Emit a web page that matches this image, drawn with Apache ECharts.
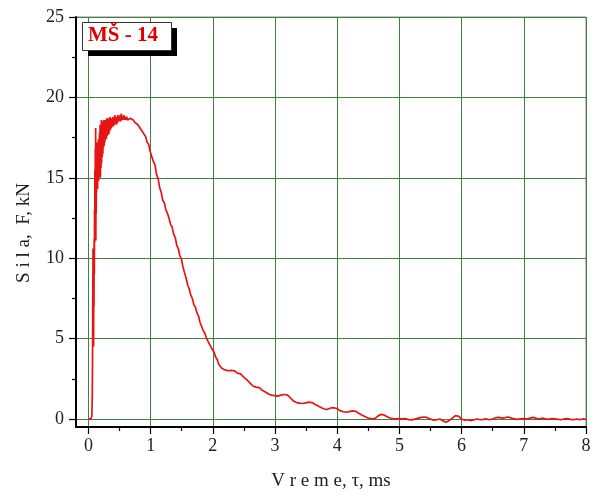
<!DOCTYPE html>
<html>
<head>
<meta charset="utf-8">
<script src="https://cdn.jsdelivr.net/npm/echarts@6/dist/echarts.min.js"></script>
<style>
  html, body { margin: 0; padding: 0; background: #fff; }
  #chart { width: 593px; height: 495px; }
</style>
</head>
<body>
<div id="chart"></div>
<script>
// Specimen label
const specimenName = 'MŠ - 14';

// Impact onset and peak plateau: time (ms) and force (kN)
const riseTime = [
  0.000, 0.040, 0.055, 0.062, 0.066, 0.070, 0.074, 0.077, 0.080, 0.083,
  0.086, 0.089, 0.092, 0.095, 0.098, 0.101, 0.104, 0.107, 0.110, 0.113,
  0.116, 0.119, 0.122, 0.125, 0.128, 0.131, 0.135, 0.139, 0.143, 0.147,
  0.151, 0.155, 0.159, 0.163, 0.167, 0.172, 0.177, 0.182, 0.187, 0.192,
  0.197, 0.202, 0.207, 0.212, 0.217, 0.222, 0.227, 0.232, 0.237, 0.242,
  0.247, 0.252, 0.258, 0.264, 0.270, 0.276, 0.282, 0.288, 0.294, 0.300,
  0.307, 0.314, 0.321, 0.328, 0.335, 0.342, 0.349, 0.356, 0.363, 0.370,
  0.378, 0.386, 0.394, 0.402, 0.410, 0.418, 0.426, 0.434, 0.442, 0.450,
  0.458, 0.466, 0.474, 0.482, 0.490, 0.500, 0.510, 0.520, 0.530, 0.540,
  0.550, 0.560, 0.570, 0.580, 0.590, 0.600, 0.615, 0.630, 0.645, 0.660,
  0.675, 0.690, 0.705
];
const riseForce = [
  0.00, 0.00, 0.20, 1.50, 4.00, 7.50, 10.60, 5.00, 9.50, 4.50,
  10.00, 7.00, 11.20, 9.00, 13.00, 11.00, 15.50, 12.50, 16.80, 14.00,
  18.10, 11.10, 15.80, 12.80, 16.50, 14.10, 16.90, 14.50, 17.20, 14.30,
  16.80, 15.00, 17.40, 14.80, 16.20, 15.10, 17.80, 15.30, 18.30, 15.00,
  17.50, 15.60, 18.60, 15.90, 18.20, 16.30, 18.50, 16.50, 18.00, 16.90,
  18.60, 17.00, 18.40, 17.20, 18.60, 17.50, 18.30, 17.40, 18.70, 17.60,
  18.50, 17.80, 18.70, 17.70, 18.60, 17.90, 18.80, 18.00, 18.60, 18.10,
  18.70, 18.20, 18.80, 18.20, 18.60, 18.30, 18.90, 18.40, 18.70, 18.30,
  18.80, 18.40, 18.90, 18.50, 18.80, 18.50, 18.90, 18.50, 19.00, 18.60,
  18.80, 18.60, 18.90, 18.60, 18.80, 18.60, 18.80, 18.60, 18.70, 18.60,
  18.70, 18.60, 18.70
];

// Unloading branch
const decayTime = [
  0.720, 0.745, 0.770, 0.795, 0.820, 0.845, 0.870, 0.895, 0.920, 0.945,
  0.970, 0.995, 1.020, 1.045, 1.070, 1.095, 1.120, 1.145, 1.170, 1.195,
  1.220, 1.245, 1.270, 1.295, 1.320, 1.345, 1.370, 1.395, 1.420, 1.445,
  1.470, 1.495, 1.520, 1.545, 1.570, 1.595, 1.620, 1.645, 1.670, 1.695,
  1.720, 1.745, 1.770, 1.795, 1.820, 1.845, 1.870, 1.895, 1.920, 1.945,
  1.970, 1.995, 2.020, 2.045, 2.070, 2.095, 2.120, 2.145, 2.170, 2.195,
  2.220, 2.245, 2.270, 2.295, 2.320, 2.345, 2.370, 2.395, 2.420, 2.445,
  2.470, 2.495, 2.520, 2.545, 2.570, 2.595, 2.620, 2.645, 2.670, 2.695,
  2.720, 2.745, 2.770, 2.795, 2.820, 2.845, 2.870, 2.895, 2.920, 2.945,
  2.970, 2.995, 3.020, 3.045, 3.070, 3.095, 3.120, 3.145, 3.170, 3.195,
  3.220, 3.245, 3.270, 3.295, 3.320, 3.345, 3.370, 3.395, 3.420, 3.445,
  3.470, 3.495, 3.520, 3.545, 3.570, 3.595, 3.620, 3.645, 3.670, 3.695,
  3.720, 3.745, 3.770, 3.795, 3.820, 3.845, 3.870, 3.895, 3.920, 3.945,
  3.970, 3.995, 4.020, 4.045, 4.070, 4.095, 4.120, 4.145, 4.170, 4.195,
  4.220, 4.245, 4.270, 4.295, 4.320, 4.345, 4.370, 4.395, 4.420, 4.445,
  4.470, 4.495, 4.520, 4.545, 4.570, 4.595, 4.620, 4.645, 4.670, 4.695,
  4.720, 4.745, 4.770, 4.795, 4.820, 4.845, 4.870, 4.895, 4.920, 4.945,
  4.970, 4.995, 5.020
];
const decayForce = [
  18.60, 18.45, 18.55, 18.30, 18.25, 18.00, 17.95, 17.70, 17.55, 17.20,
  17.05, 16.60, 16.50, 16.00, 15.80, 15.20, 14.95, 14.40, 14.10, 13.60,
  13.45, 13.00, 12.80, 12.50, 12.10, 11.95, 11.50, 11.30, 10.80, 10.60,
  10.15, 9.95, 9.45, 9.10, 8.75, 8.35, 8.10, 7.70, 7.50, 7.10,
  6.95, 6.60, 6.40, 6.00, 5.90, 5.50, 5.35, 5.05, 4.95, 4.65,
  4.55, 4.30, 4.15, 3.85, 3.70, 3.40, 3.30, 3.15, 3.20, 3.05,
  3.12, 3.00, 3.10, 3.02, 3.12, 3.00, 2.98, 2.85, 2.92, 2.80,
  2.75, 2.60, 2.62, 2.45, 2.40, 2.25, 2.20, 2.05, 2.10, 1.98,
  2.05, 1.95, 1.90, 1.78, 1.82, 1.68, 1.65, 1.55, 1.58, 1.48,
  1.50, 1.45, 1.48, 1.42, 1.50, 1.48, 1.58, 1.52, 1.60, 1.50,
  1.45, 1.32, 1.25, 1.12, 1.10, 1.02, 1.05, 0.98, 1.02, 0.96,
  1.05, 1.00, 1.10, 1.05, 1.12, 1.02, 0.98, 0.90, 0.88, 0.80,
  0.78, 0.70, 0.68, 0.62, 0.66, 0.60, 0.70, 0.68, 0.76, 0.70,
  0.75, 0.65, 0.62, 0.52, 0.50, 0.45, 0.48, 0.42, 0.50, 0.46,
  0.52, 0.50, 0.55, 0.48, 0.45, 0.36, 0.32, 0.25, 0.22, 0.15,
  0.12, 0.06, 0.08, 0.02, 0.05, 0.00, 0.10, 0.15, 0.25, 0.28,
  0.30, 0.26, 0.22, 0.15, 0.12, 0.06, 0.08, 0.02, 0.05, 0.00,
  0.06, 0.02, 0.03
];

// Residual signal after the specimen is unloaded
const tailTime = [
  5.050, 5.100, 5.150, 5.200, 5.250, 5.300, 5.350, 5.400, 5.450, 5.500,
  5.550, 5.600, 5.650, 5.700, 5.750, 5.800, 5.850, 5.900, 5.950, 6.000,
  6.050, 6.100, 6.150, 6.200, 6.250, 6.300, 6.350, 6.400, 6.450, 6.500,
  6.550, 6.600, 6.650, 6.700, 6.750, 6.800, 6.850, 6.900, 6.950, 7.000,
  7.050, 7.100, 7.150, 7.200, 7.250, 7.300, 7.350, 7.400, 7.450, 7.500,
  7.550, 7.600, 7.650, 7.700, 7.750, 7.800, 7.850, 7.900, 7.950, 8.000
];
const tailForce = [
  0.00, 0.02, -0.05, -0.06, 0.00, 0.05, 0.10, 0.12, 0.08, 0.00,
  -0.08, -0.05, 0.00, -0.12, -0.20, -0.10, 0.05, 0.20, 0.18, 0.00,
  -0.08, -0.05, -0.10, -0.05, 0.00, -0.05, -0.03, 0.00, -0.05, 0.00,
  0.08, 0.10, 0.05, 0.08, 0.12, 0.05, 0.00, -0.02, 0.00, 0.02,
  0.00, 0.05, 0.10, 0.04, 0.00, 0.05, 0.00, -0.03, 0.02, 0.00,
  -0.02, -0.05, 0.00, 0.02, -0.03, -0.05, 0.00, -0.04, 0.00, -0.02
];

// Axis tick positions
const xMajorTicks = [0, 1, 2, 3, 4, 5, 6, 7, 8];
const xMinorTicks = [0.5, 1.5, 2.5, 3.5, 4.5, 5.5, 6.5, 7.5];
const yMajorTicks = [0, 5, 10, 15, 20, 25];
const yMinorTicks = [2.5, 7.5, 12.5, 17.5, 22.5];

const xTitle = 'V r e m e, τ, ms';
const yTitle = 'S i l a,  F, kN';

const serif = '"Liberation Serif", "DejaVu Serif", serif';
const gridGreen = '#3f823f';

const timeMs = riseTime.concat(decayTime, tailTime);
const forceKN = riseForce.concat(decayForce, tailForce);
const seriesData = timeMs.map((t, i) => [t, forceKN[i]]);

const chart = echarts.init(document.getElementById('chart'), null, { renderer: 'canvas' });

const majorAxisCommon = {
  axisLine: { show: true, onZero: false, lineStyle: { color: '#000', width: 2 } },
  axisTick: { show: true, inside: false, length: 7, lineStyle: { color: '#000', width: 1.2 } },
  axisLabel: { color: '#222', fontFamily: serif, fontSize: 18 },
  splitLine: { show: true, lineStyle: { color: gridGreen, width: 1 } },
  minorTick: { show: false },
  minorSplitLine: { show: false }
};

const minorAxisCommon = {
  axisLine: { show: false, onZero: false },
  axisLabel: { show: false },
  splitLine: { show: false },
  axisPointer: { show: false }
};

chart.setOption({
  animation: false,
  backgroundColor: '#fff',
  grid: {
    left: 76, right: 7, top: 17, bottom: 68,
    containLabel: false, outerBoundsMode: 'none',
    show: true, borderColor: '#8a8a8a', borderWidth: 1, backgroundColor: 'transparent'
  },
  xAxis: [
    Object.assign({}, majorAxisCommon, {
      type: 'value', min: -0.2, max: 8, position: 'bottom',
      name: xTitle, nameLocation: 'middle', nameGap: 45,
      nameTextStyle: { color: '#222', fontFamily: serif, fontSize: 19 },
      axisTick: Object.assign({}, majorAxisCommon.axisTick, { customValues: xMajorTicks }),
      axisLabel: Object.assign({}, majorAxisCommon.axisLabel, { customValues: xMajorTicks, margin: 10 })
    }),
    Object.assign({}, minorAxisCommon, {
      type: 'value', min: -0.2, max: 8, position: 'bottom',
      axisTick: { show: true, length: 4, customValues: xMinorTicks, lineStyle: { color: '#000', width: 1.2 } }
    })
  ],
  yAxis: [
    Object.assign({}, majorAxisCommon, {
      type: 'value', min: -0.5, max: 25, position: 'left',
      name: yTitle, nameLocation: 'middle', nameGap: 42, nameRotate: 90,
      nameTextStyle: { color: '#222', fontFamily: serif, fontSize: 19, padding: [0, 22, 0, 0] },
      axisTick: Object.assign({}, majorAxisCommon.axisTick, { customValues: yMajorTicks }),
      axisLabel: Object.assign({}, majorAxisCommon.axisLabel, { customValues: yMajorTicks, margin: 12 })
    }),
    Object.assign({}, minorAxisCommon, {
      type: 'value', min: -0.5, max: 25, position: 'left',
      axisTick: { show: true, length: 4, customValues: yMinorTicks, lineStyle: { color: '#000', width: 1.2 } }
    })
  ],
  series: [{
    name: specimenName,
    type: 'line',
    xAxisIndex: 0,
    yAxisIndex: 0,
    data: seriesData,
    showSymbol: false,
    symbol: 'none',
    lineStyle: { color: '#e81414', width: 1.7 },
    z: 5
  }],
  graphic: [
    // label box with drop shadow
    { type: 'rect', left: 88, top: 28, z: 10, shape: { width: 89, height: 28 }, style: { fill: '#000' } },
    { type: 'rect', left: 82, top: 22, z: 11, shape: { width: 89, height: 28 }, style: { fill: '#fff', stroke: '#333', lineWidth: 1 } },
    { type: 'text', left: 88, top: 25, z: 12,
      style: { text: specimenName, fill: '#e00000', font: 'bold 21px ' + serif } }
  ]
});
</script>
</body>
</html>
